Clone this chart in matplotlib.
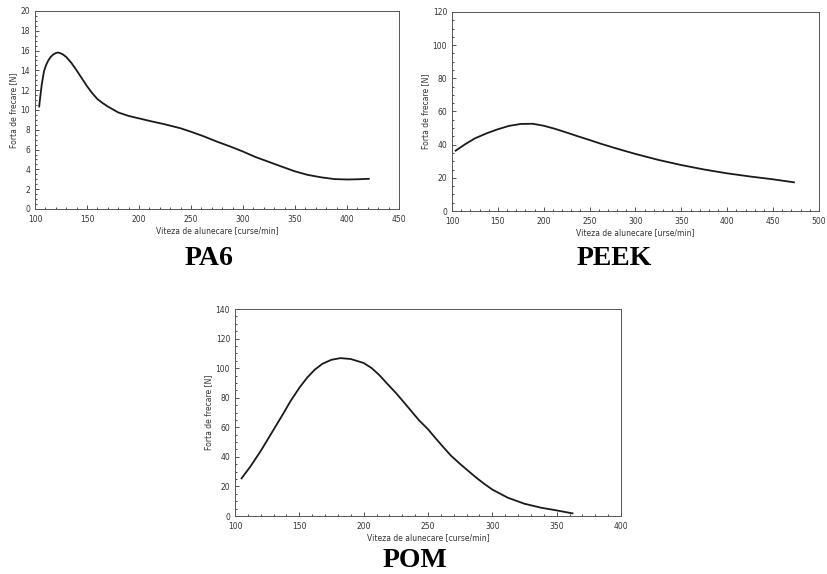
import numpy as np
import matplotlib.pyplot as plt
from matplotlib.ticker import AutoMinorLocator

# PA6 - forta de frecare vs viteza
pa6_x = [104, 105, 106.5, 108.6, 110.5, 112.5, 115, 117.5, 120, 122, 124, 127, 130, 135, 140, 145, 150, 155,
         160, 165, 170, 180, 190, 200, 212, 225, 240, 250, 262, 275, 288, 300, 312, 325, 338, 350, 362,
         375, 388, 400, 410, 421]
pa6_y = [10.35, 11.3, 12.6, 13.9, 14.5, 14.95, 15.35, 15.6, 15.75, 15.8, 15.75, 15.6, 15.35, 14.75, 14.0, 13.2,
         12.4, 11.7, 11.1, 10.7, 10.35, 9.75, 9.4, 9.15, 8.85, 8.55, 8.15, 7.8, 7.35, 6.8, 6.3, 5.8, 5.25,
         4.75, 4.25, 3.8, 3.45, 3.2, 3.02, 2.98, 3.0, 3.05]

# PEEK
peek_x = [104, 115, 125, 138, 150, 162, 175, 188, 200, 212, 225, 237, 250, 262, 275, 288, 300, 325, 350,
          375, 400, 425, 450, 472.7]
peek_y = [36.4, 40.5, 43.8, 46.9, 49.3, 51.3, 52.5, 52.6, 51.4, 49.6, 47.3, 45.1, 42.8, 40.6, 38.4, 36.3,
          34.4, 30.8, 27.7, 25.0, 22.7, 20.8, 19.1, 17.3]

# POM
pom_x = [105.1, 112, 120, 128, 137, 143, 150, 156, 162, 168, 175, 182, 190, 200, 206, 212, 218, 225, 231,
         237, 243, 250, 256, 262, 268, 275, 282, 288, 294, 300, 312, 325, 338, 350, 362.3]
pom_y = [25.5, 33.5, 44.0, 55.5, 68.5, 77.5, 86.7, 93.5, 99.0, 103.0, 105.7, 106.8, 106.2, 103.5, 100.2, 95.5,
         89.8, 83.3, 77.2, 71.0, 64.8, 58.7, 52.5, 46.5, 40.7, 35.2, 30.0, 25.6, 21.6, 17.9, 12.4, 8.3,
         5.6, 3.8, 1.8]

panels = [
    dict(x=pa6_x, y=pa6_y, rect=[0.0423, 0.6359, 0.4396, 0.345], xlim=(100, 450), xstep=50,
         ylim=(0, 20), ystep=2, xlabel='Viteza de alunecare [curse/min]', name='PA6', nx=0.2524, ny=0.5385),
    dict(x=peek_x, y=peek_y, rect=[0.5459, 0.6324, 0.4432, 0.3467], xlim=(100, 500), xstep=50,
         ylim=(0, 120), ystep=20, xlabel='Viteza de alunecare [urse/min]', name='PEEK', nx=0.7415, ny=0.5385),
    dict(x=pom_x, y=pom_y, rect=[0.2838, 0.101, 0.4662, 0.3606], xlim=(100, 400), xstep=50,
         ylim=(0, 140), ystep=20, xlabel='Viteza de alunecare [curse/min]', name='POM', nx=0.5012, ny=0.013),
]

fig = plt.figure(figsize=(8.28, 5.74), dpi=100)

for p in panels:
    ax = fig.add_axes(p['rect'])
    ax.plot(p['x'], p['y'], color='#1a1a1a', lw=1.3)
    ax.set_xlim(*p['xlim'])
    ax.set_ylim(*p['ylim'])
    ax.set_xticks(np.arange(p['xlim'][0], p['xlim'][1] + 1, p['xstep']))
    ax.set_yticks(np.arange(p['ylim'][0], p['ylim'][1] + 1, p['ystep']))
    ax.xaxis.set_minor_locator(AutoMinorLocator(5))
    ax.yaxis.set_minor_locator(AutoMinorLocator(4))
    ax.tick_params(which='major', direction='in', length=3, width=0.6, labelsize=5.5, colors='#333333')
    ax.tick_params(axis='x', which='major', pad=4)
    ax.tick_params(axis='y', which='major', pad=3.5)
    ax.tick_params(which='minor', direction='in', length=1.5, width=0.5)
    for s in ax.spines.values():
        s.set_linewidth(0.7)
        s.set_color('#555555')
    ax.set_xlabel(p['xlabel'], fontsize=5.5, labelpad=2, color='#333333')
    ax.set_ylabel('Forta de frecare [N]', fontsize=5.5, labelpad=2, color='#333333')
    fig.text(p['nx'], p['ny'], p['name'], fontsize=20, fontweight='bold',
             family='Liberation Serif', ha='center', va='baseline')

fig.savefig('out.png', dpi=100)
